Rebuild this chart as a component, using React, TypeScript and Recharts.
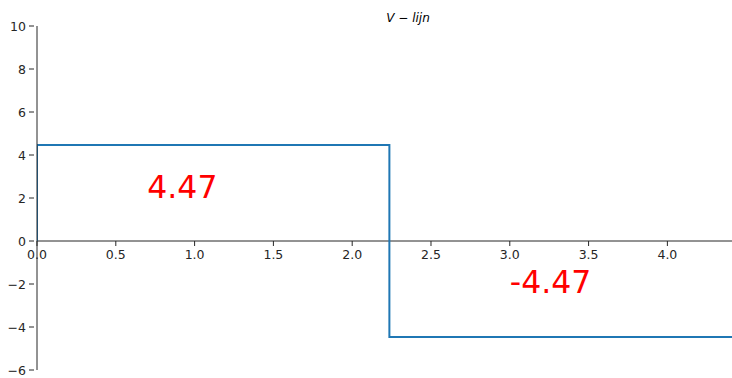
import React from 'react';
import { LineChart, Line, XAxis, YAxis, ReferenceDot, ReferenceLine } from 'recharts';

// beam of length 2*sqrt(5), load at mid-span
const beamLength = 4.472;
const midSpan = 2.236;
const shear = 4.47;

const xValues = [0, 0, midSpan, midSpan, beamLength, beamLength];
const vValues = [0, shear, shear, -shear, -shear, 0];

const xTicks = [0, 0.5, 1.0, 1.5, 2.0, 2.5, 3.0, 3.5, 4.0];
const yTicks = [-6, -4, -2, 0, 2, 4, 6, 8, 10];

const annotations = [
  { x: 0.7, y: 2.0, value: shear },
  { x: 3.0, y: -2.42, value: -shear },
];

const data = xValues.map((x, i) => ({ x, v: vValues[i] }));

const FONT = 'DejaVu Sans, sans-serif';
const INK = '#262626';

const minus = (v: number, digits = 0) => v.toFixed(digits).replace('-', '\u2212');

// x-axis ticks sit on the zero line, like a centred spine
const XTick = (label: string) => (props: any) => (
  <g>
    <line x1={props.cx} y1={props.cy} x2={props.cx} y2={props.cy + 5} stroke={INK} strokeWidth={1} />
    <text x={props.cx} y={props.cy + 18} textAnchor="middle" fontFamily={FONT} fontSize={12.5} fill={INK}>
      {label}
    </text>
  </g>
);

const ValueText = (value: number) => (props: any) => (
  <text x={props.cx} y={props.cy} textAnchor="start" fontFamily={FONT} fontSize={31.5} fill="#ff0000">
    {value.toFixed(2)}
  </text>
);

const YTick = (props: any) => {
  const { x, y, payload } = props;
  return (
    <g>
      <line x1={x + 5} y1={y} x2={x} y2={y} stroke={INK} strokeWidth={1} />
      <text x={x - 3} y={y + 4.5} textAnchor="end" fontFamily={FONT} fontSize={12.5} fill={INK}>
        {minus(payload.value)}
      </text>
    </g>
  );
};

const App = () => (
  <div style={{ position: 'absolute', left: 0, top: 0 }}>
    <LineChart width={732} height={378} data={data} margin={{ top: 26, right: 0, bottom: 8, left: 0 }}>
      <XAxis dataKey="x" type="number" domain={[0, 4.41]} allowDataOverflow hide />
      <YAxis
        type="number"
        domain={[-6, 10]}
        ticks={yTicks}
        width={37}
        axisLine={{ stroke: INK, strokeWidth: 1 }}
        tickLine={false}
        tick={YTick}
        interval={0}
      />
      <ReferenceLine y={0} stroke={INK} strokeWidth={1} />
      <Line
        dataKey="v"
        type="linear"
        stroke="#1f77b4"
        strokeWidth={2}
        dot={false}
        isAnimationActive={false}
      />
      {xTicks.map((t) => (
        <ReferenceDot key={t} x={t} y={0} r={0} ifOverflow="visible" shape={XTick(t.toFixed(1))} />
      ))}
      {annotations.map((a, i) => (
        <ReferenceDot key={`a${i}`} x={a.x} y={a.y} r={0} ifOverflow="visible" shape={ValueText(a.value)} />
      ))}
      <text x={408} y={22} textAnchor="middle" fontFamily={FONT} fontSize={12} fontStyle="italic" fill="#000">
        V − lijn
      </text>
    </LineChart>
  </div>
);

export default App;
